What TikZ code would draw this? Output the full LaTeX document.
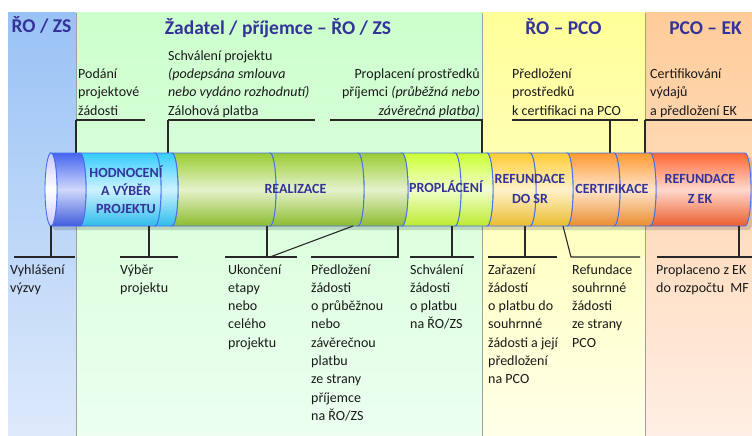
\documentclass[tikz,border=0pt]{standalone}
\usepackage{fontspec}
\setmainfont{Carlito}
\definecolor{hdr}{RGB}{51,51,153}
\definecolor{txtc}{RGB}{25,25,25}
\definecolor{linec}{RGB}{40,40,40}
\definecolor{cylline}{RGB}{70,110,240}
\definecolor{bluetop}{RGB}{153,194,245}
\definecolor{bluebot}{RGB}{222,234,251}
\definecolor{greentop}{RGB}{204,255,204}
\definecolor{greenbot}{RGB}{236,255,240}
\definecolor{yeltop}{RGB}{255,255,153}
\definecolor{yelbot}{RGB}{255,255,232}
\definecolor{ortop}{RGB}{255,204,153}
\definecolor{orbot}{RGB}{255,238,228}
\definecolor{capblue}{RGB}{70,100,240}
\definecolor{ccyan}{RGB}{51,204,255}
\definecolor{cgreen}{RGB}{153,204,51}
\definecolor{clime}{RGB}{204,255,51}
\definecolor{cgold}{RGB}{255,204,51}
\definecolor{corange}{RGB}{255,153,51}
\definecolor{cred}{RGB}{255,102,51}
\definecolor{lav}{RGB}{200,200,255}
\begin{document}
\begin{tikzpicture}[x=1pt,y=-1pt,
  txt/.style={font=\fontsize{14}{18.3}\selectfont, align=left, inner sep=0pt, anchor=base west, text=txtc},
  hdrlbl/.style={font=\fontsize{19.5}{22}\selectfont\bfseries, text=hdr, inner sep=0pt, anchor=base},
  cyl/.style={font=\fontsize{14}{18}\selectfont\bfseries, text=hdr, align=center, inner sep=0pt, anchor=base},
  seg/.style={draw=cylline, line width=0.9pt, top color=#1, bottom color=#1!92!black, middle color=#1!25!white},
  ln/.style={draw=linec, line width=1.1pt},
  border/.style={draw=gray!75, line width=1pt}
]
\useasboundingbox (0,0) rectangle (752,436);
\fill[white] (0,0) rectangle (752,436);
% columns
\fill[top color=bluetop, bottom color=bluebot] (8,13) rectangle (76,436);
\fill[top color=greentop, bottom color=greenbot] (76,13) rectangle (482,436);
\fill[top color=yeltop, bottom color=yelbot] (482,13) rectangle (645,436);
\fill[top color=ortop, bottom color=orbot] (645,13) rectangle (752,436);
\draw[border] (76,13) -- (76,436);
\draw[border] (482,13) -- (482,436);
\draw[border] (645,13) -- (645,436);
% headers
\node[hdrlbl] (h1) at (41.5,33) {ŘO / ZS};
\node[hdrlbl] (h2) at (278,35) {Žadatel / příjemce – ŘO / ZS};
\node[hdrlbl] (h3) at (563.5,35) {ŘO – PCO};
\node[hdrlbl] (h4) at (705.5,35) {PCO – EK};
% top labels (base anchor = last line)
\node[txt] (t1) at (78,115) {Podání\\projektové\\žádosti};
\node[txt] (t2) at (168,115) {Schválení projektu\\\textit{(podepsána smlouva}\\\textit{nebo vydáno rozhodnutí)}\\Zálohová platba};
\node[txt, anchor=base east, align=right] (t3) at (480,115) {Proplacení prostředků\\příjemci \textit{(průběžná nebo}\\\textit{závěrečná platba)}};
\node[txt] (t4) at (512,115) {Předložení\\prostředků\\k certifikaci na PCO};
\node[txt] (t5) at (650,115) {Certifikování\\výdajů\\a předložení EK};
% top connectors
\draw[ln] (76,120) -- (145,120);
\draw[ln] (76,120) -- (76,153);
\draw[ln] (168,120) -- (315,120);
\draw[ln] (168,120) -- (168,153);
\draw[ln] (330,120) -- (482,120) -- (482,153);
\draw[ln] (512,120) -- (638,120);
\draw[ln] (610,120) -- (610,153);
\draw[ln] (645,120) -- (752,120);
\draw[ln] (645,120) -- (645,153);
% shadow
\fill[black, opacity=0.15] (55,157) -- (749,157) arc[start angle=90, end angle=-90, x radius=6pt, y radius=36.5pt] -- (55,230) arc[start angle=270, end angle=90, x radius=6pt, y radius=36.5pt] -- cycle;
% cylinder segments
\newcommand{\cylseg}[3]{\path[seg=#3] (#1,153) -- (#2,153) arc[start angle=90, end angle=-90, x radius=6pt, y radius=36.5pt] -- (#1,226) arc[start angle=-90, end angle=90, x radius=6pt, y radius=36.5pt] -- cycle;}
\cylseg{650}{745}{cred}
\cylseg{614}{650}{corange}
\cylseg{567}{614}{corange}
\cylseg{530}{567}{cgold}
\cylseg{487}{530}{cgold}
\cylseg{455}{487}{clime}
\cylseg{402}{455}{clime}
\cylseg{358}{402}{cgreen}
\cylseg{270}{358}{cgreen}
\cylseg{172}{270}{cgreen}
\cylseg{155}{172}{ccyan}
\cylseg{80}{155}{ccyan}
\cylseg{51}{80}{capblue}
\path[draw=cylline, line width=0.9pt, top color=lav, bottom color=lav, middle color=white] (51,189.5) ellipse[x radius=6pt, y radius=36.5pt];
% cylinder labels
\node[cyl] (c1) at (126,213) {HODNOCENÍ\\A VÝBĚR\\PROJEKTU};
\node[cyl] (c2) at (295.5,193) {REALIZACE};
\node[cyl] (c3) at (446,192) {PROPLÁCENÍ};
\node[cyl, font=\fontsize{14}{20}\selectfont\bfseries] (c4) at (530,203) {REFUNDACE\\DO SR};
\node[cyl] (c5) at (612,193) {CERTIFIKACE};
\node[cyl, font=\fontsize{14}{20}\selectfont\bfseries] (c6) at (700,203) {REFUNDACE\\Z EK};
% bottom connectors
\draw[ln] (51,226) -- (51,257);
\draw[ln] (14,257) -- (75,257);
\draw[ln] (149,226) -- (149,257);
\draw[ln] (120,257) -- (178,257);
\draw[ln] (267,226) -- (267,257);
\draw[ln] (225,257) -- (297,257);
\draw[ln] (270,257) -- (353,226);
\draw[ln] (311,257) -- (398,257) -- (398,226);
\draw[ln] (452,226) -- (452,257);
\draw[ln] (410,257) -- (474,257);
\draw[ln] (525,226) -- (525,257);
\draw[ln] (488,257) -- (557,257);
\draw[ln] (563,226) -- (571,257) -- (640,257);
\draw[ln] (739,226) -- (739,257);
\draw[ln] (657,257) -- (752,257);
% bottom labels (base anchor = last line)
\node[txt] (b1) at (10,292.3) {Vyhlášení\\výzvy};
\node[txt] (b2) at (120,292.3) {Výběr\\projektu};
\node[txt] (b3) at (228,347.2) {Ukončení\\etapy\\nebo\\celého\\projektu};
\node[txt] (b4) at (311,420.4) {Předložení\\žádosti\\o průběžnou\\nebo\\závěrečnou\\platbu\\ze strany\\příjemce\\na ŘO/ZS};
\node[txt] (b5) at (410,328.9) {Schválení\\žádosti\\o platbu\\na ŘO/ZS};
\node[txt] (b6) at (488,383.8) {Zařazení\\žádostí\\o platbu do\\souhrnné\\žádosti a její\\předložení\\na PCO};
\node[txt] (b7) at (572,347.2) {Refundace\\souhrnné\\žádosti\\ze strany\\PCO};
\node[txt] (b8) at (656,292.3) {Proplaceno z EK\\do rozpočtu\ \ MF};
\end{tikzpicture}
\end{document}
